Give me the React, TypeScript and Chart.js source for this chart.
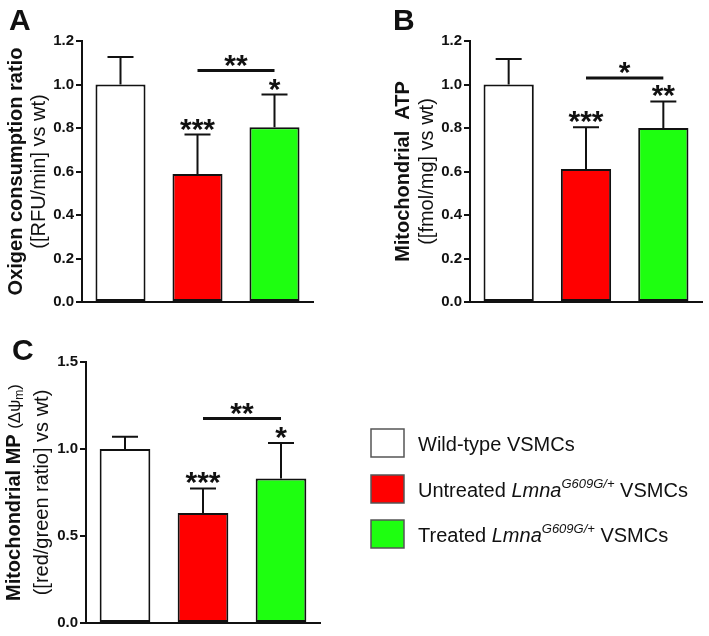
import React, { useEffect, useRef } from 'react';
import { Chart, registerables } from 'chart.js';
Chart.register(...registerables);

// ---------- data ----------
const categories = ['Wild-type VSMCs', 'Untreated LmnaG609G/+ VSMCs', 'Treated LmnaG609G/+ VSMCs'];
const barColors = ['#ffffff', '#ff0000', '#1eff10'];

const valuesA = [1.0, 0.589, 0.804];
const errorsA = [0.127, 0.181, 0.15];
const starsA = ['', '***', '*'];
const bracketLevelA = 1.064;
const bracketLabelA = '**';
const yTicksA = [0, 0.2, 0.4, 0.6, 0.8, 1.0, 1.2];

const valuesB = [1.0, 0.611, 0.8];
const errorsB = [0.117, 0.193, 0.122];
const starsB = ['', '***', '**'];
const bracketLevelB = 1.03;
const bracketLabelB = '*';
const yTicksB = [0, 0.2, 0.4, 0.6, 0.8, 1.0, 1.2];

const valuesC = [1.0, 0.632, 0.831];
const errorsC = [0.071, 0.141, 0.204];
const starsC = ['', '***', '*'];
const bracketLevelC = 1.175;
const bracketLabelC = '**';
const yTicksC = [0, 0.5, 1.0, 1.5];

// legend label parts: n = normal, i = italic, s = italic superscript
const legendParts: [string, string][][] = [
  [['Wild-type VSMCs', 'n']],
  [['Untreated ', 'n'], ['Lmna', 'i'], ['G609G/+', 's'], [' VSMCs', 'n']],
  [['Treated ', 'n'], ['Lmna', 'i'], ['G609G/+', 's'], [' VSMCs', 'n']],
];

const FONT = 'Arial, "Liberation Sans", sans-serif';
const INK = '#111111';

type Seg = { text: string; font: string; rise?: number };

function drawRotated(ctx: CanvasRenderingContext2D, segs: Seg[], baseX: number, cy: number) {
  ctx.save();
  ctx.translate(baseX, cy);
  ctx.rotate(-Math.PI / 2);
  let total = 0;
  for (const s of segs) {
    ctx.font = s.font;
    total += ctx.measureText(s.text).width;
  }
  let x = -total / 2;
  ctx.textAlign = 'left';
  ctx.textBaseline = 'alphabetic';
  ctx.fillStyle = INK;
  for (const s of segs) {
    ctx.font = s.font;
    ctx.fillText(s.text, x, -(s.rise || 0));
    x += ctx.measureText(s.text).width;
  }
  ctx.restore();
}

function drawAbove(ctx: CanvasRenderingContext2D, text: string, cx: number, bottomY: number, font: string) {
  ctx.save();
  ctx.font = font;
  ctx.fillStyle = INK;
  ctx.textAlign = 'center';
  ctx.textBaseline = 'alphabetic';
  const m = ctx.measureText(text);
  ctx.fillText(text, cx, bottomY - m.actualBoundingBoxDescent);
  ctx.restore();
}

interface PanelSpec {
  width: number;
  height: number;
  area: { left: number; top: number; right: number; bottom: number };
  values: number[];
  errors: number[];
  stars: string[];
  bracketLevel: number;
  bracketLabel: string;
  yTicks: number[];
  letter: string;
  letterPos: [number, number];
  titleLines: { segs: Seg[]; baseX: number }[];
  legend?: boolean;
}

const STAR_FONT = `bold 30px ${FONT}`;

function makeChart(canvas: HTMLCanvasElement, p: PanelSpec) {
  const overlay = {
    id: 'overlay',
    afterDatasetsDraw(chart: any) {
      const ctx: CanvasRenderingContext2D = chart.ctx;
      const xs = chart.scales.x;
      const ys = chart.scales.y;
      ctx.save();
      ctx.strokeStyle = INK;
      ctx.lineWidth = 2;
      p.values.forEach((v, i) => {
        const cx = xs.getPixelForValue(i);
        const y0 = ys.getPixelForValue(v);
        const y1 = ys.getPixelForValue(v + p.errors[i]);
        ctx.beginPath();
        ctx.moveTo(cx, y0);
        ctx.lineTo(cx, y1);
        ctx.moveTo(cx - 13, y1);
        ctx.lineTo(cx + 13, y1);
        ctx.stroke();
        if (p.stars[i]) drawAbove(ctx, p.stars[i], cx, y1 - 4, STAR_FONT);
      });
      // bracket
      const bx0 = xs.getPixelForValue(1);
      const bx1 = xs.getPixelForValue(2);
      const by = ys.getPixelForValue(p.bracketLevel);
      ctx.lineWidth = 3;
      ctx.beginPath();
      ctx.moveTo(bx0, by);
      ctx.lineTo(bx1, by);
      ctx.stroke();
      drawAbove(ctx, p.bracketLabel, (bx0 + bx1) / 2, by - 4, STAR_FONT);
      ctx.restore();
    },
    afterDraw(chart: any) {
      const ctx: CanvasRenderingContext2D = chart.ctx;
      const a = chart.chartArea;
      const cy = (a.top + a.bottom) / 2;
      for (const line of p.titleLines) drawRotated(ctx, line.segs, line.baseX, cy);
      ctx.save();
      ctx.fillStyle = INK;
      ctx.font = `bold 30px ${FONT}`;
      ctx.textAlign = 'left';
      ctx.textBaseline = 'alphabetic';
      ctx.fillText(p.letter, p.letterPos[0], p.letterPos[1]);
      ctx.restore();
      if (p.legend) {
        const boxX = 371;
        const boxTops = [109, 155, 200];
        ctx.save();
        boxTops.forEach((t, i) => {
          ctx.fillStyle = barColors[i];
          ctx.fillRect(boxX, t, 33, 28);
          ctx.strokeStyle = '#555555';
          ctx.lineWidth = 1.5;
          ctx.strokeRect(boxX, t, 33, 28);
          let x = 418;
          const base = t + 14 + 8;
          for (const [txt, kind] of legendParts[i]) {
            let font = `20px ${FONT}`;
            let rise = 0;
            if (kind === 'i') font = `italic 20px ${FONT}`;
            if (kind === 's') {
              font = `italic 13px ${FONT}`;
              rise = 9;
            }
            ctx.font = font;
            ctx.fillStyle = INK;
            ctx.textAlign = 'left';
            ctx.textBaseline = 'alphabetic';
            ctx.fillText(txt, x, base - rise);
            x += ctx.measureText(txt).width;
          }
        });
        ctx.restore();
      }
    },
  };

  const yMax = p.yTicks[p.yTicks.length - 1];
  return new Chart(canvas, {
    type: 'bar',
    data: {
      labels: categories,
      datasets: [
        {
          data: p.values,
          backgroundColor: barColors,
          borderColor: INK,
          borderWidth: 2,
          borderSkipped: false,
          categoryPercentage: 1,
          barPercentage: 0.65,
        },
      ],
    },
    options: {
      responsive: false,
      animation: false,
      events: [],
      layout: {
        padding: {
          left: 0,
          top: p.area.top,
          right: p.width - p.area.right,
          bottom: 0,
        },
      },
      plugins: { legend: { display: false }, tooltip: { enabled: false } },
      scales: {
        x: {
          grid: { display: false },
          ticks: { display: false },
          border: { display: true, color: INK, width: 2 },
          afterFit: (s: any) => {
            s.height = p.height - p.area.bottom;
          },
        },
        y: {
          min: 0,
          max: yMax,
          afterBuildTicks: (s: any) => {
            s.ticks = p.yTicks.map((v) => ({ value: v }));
          },
          afterFit: (s: any) => {
            s.width = p.area.left;
          },
          grid: {
            display: true,
            drawOnChartArea: false,
            drawTicks: true,
            tickLength: 6,
            color: INK,
            lineWidth: 2,
          },
          border: { display: true, color: INK, width: 2 },
          ticks: {
            color: INK,
            padding: 2,
            font: { family: FONT, size: 15, weight: 'bold' },
            callback: (v: any) => Number(v).toFixed(1),
          },
        },
      },
    } as any,
    plugins: [overlay],
  });
}

const specA: PanelSpec = {
  width: 330,
  height: 320,
  area: { left: 82, top: 41, right: 313, bottom: 302 },
  values: valuesA,
  errors: errorsA,
  stars: starsA,
  bracketLevel: bracketLevelA,
  bracketLabel: bracketLabelA,
  yTicks: yTicksA,
  letter: 'A',
  letterPos: [9, 30],
  titleLines: [
    { segs: [{ text: 'Oxigen consumption ratio', font: `bold 20px ${FONT}` }], baseX: 22 },
    { segs: [{ text: '([RFU/min] vs wt)', font: `20px ${FONT}` }], baseX: 45 },
  ],
};

const specB: PanelSpec = {
  width: 349,
  height: 320,
  area: { left: 110, top: 41, right: 342, bottom: 302 },
  values: valuesB,
  errors: errorsB,
  stars: starsB,
  bracketLevel: bracketLevelB,
  bracketLabel: bracketLabelB,
  yTicks: yTicksB,
  letter: 'B',
  letterPos: [33, 30],
  titleLines: [
    { segs: [{ text: 'Mitochondrial  ATP', font: `bold 20px ${FONT}` }], baseX: 49 },
    { segs: [{ text: '([fmol/mg] vs wt)', font: `20px ${FONT}` }], baseX: 73 },
  ],
};

const specC: PanelSpec = {
  width: 709,
  height: 316,
  area: { left: 86, top: 42, right: 320, bottom: 303 },
  values: valuesC,
  errors: errorsC,
  stars: starsC,
  bracketLevel: bracketLevelC,
  bracketLabel: bracketLabelC,
  yTicks: yTicksC,
  letter: 'C',
  letterPos: [12, 40],
  titleLines: [
    {
      segs: [
        { text: 'Mitochondrial MP ', font: `bold 20px ${FONT}` },
        { text: '(\u0394\u03c8', font: `17px ${FONT}` },
        { text: 'm', font: `12px ${FONT}`, rise: -3 },
        { text: ')', font: `17px ${FONT}` },
      ],
      baseX: 20,
    },
    { segs: [{ text: '([red/green ratio] vs wt)', font: `20px ${FONT}` }], baseX: 48 },
  ],
  legend: true,
};

function Panel({ spec, left, top }: { spec: PanelSpec; left: number; top: number }) {
  const ref = useRef<HTMLCanvasElement>(null);
  useEffect(() => {
    if (!ref.current) return;
    const c = makeChart(ref.current, spec);
    return () => c.destroy();
  }, [spec]);
  return (
    <canvas
      ref={ref}
      width={spec.width}
      height={spec.height}
      style={{ position: 'absolute', left, top, width: spec.width, height: spec.height }}
    />
  );
}

export default function App() {
  return (
    <div style={{ position: 'absolute', left: 0, top: 0, width: 709, height: 636, background: '#ffffff', overflow: 'hidden' }}>
      <Panel spec={specA} left={0} top={0} />
      <Panel spec={specB} left={360} top={0} />
      <Panel spec={specC} left={0} top={320} />
    </div>
  );
}
